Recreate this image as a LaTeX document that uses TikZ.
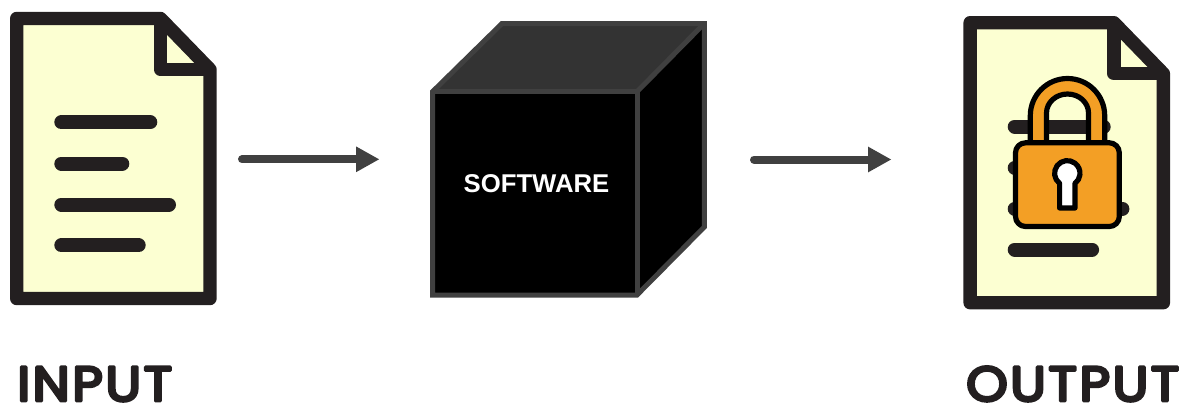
\documentclass[tikz,border=0pt]{standalone}
\usepackage{fontspec}
\setmainfont{Liberation Sans}
\newfontfamily\labelfont[FakeBold=6,FakeStretch=1.08,LetterSpace=5]{Poppins}
\usetikzlibrary{arrows.meta}
\definecolor{docink}{HTML}{231F20}
\definecolor{docpaper}{HTML}{FCFFD2}
\definecolor{cubeline}{HTML}{404040}
\definecolor{cubetop}{HTML}{333333}
\definecolor{lockorange}{HTML}{F39F25}
\tikzset{
  docshape/.style={draw=docink,fill=docpaper,line width=13.4pt,line join=round},
  docline/.style={draw=docink,line width=14pt,line cap=round},
  lockpart/.style={draw=black,line width=5.2pt,line join=round},
  cubeedge/.style={draw=cubeline,line width=5pt,line join=miter},
  flowarrow/.style={draw=cubeline,line width=8pt,line cap=round,-{Triangle[length=23.5pt,width=24pt,line cap=butt]}},
  biglabel/.style={text=docink,font=\labelfont\fontsize{49}{49}\selectfont,inner sep=0pt,anchor=base west,line join=round},
  doc/.pic={
    \path[docshape] (16.7,18.5) -- (160.5,18.5) -- (210,69.5) -- (210,298.5) -- (16.7,298.5) -- cycle;
    \path[docshape,fill=none] (160.5,18.5) -- (160.5,69.5) -- (210,69.5);
    \path[docline] (61.3,122.3) -- (150.3,122.3);
    \path[docline] (61.3,163.5) -- (122.3,163.5);
    \path[docline] (61.3,204.5) -- (169,204.5);
    \path[docline] (61.3,245.3) -- (138.7,245.3);
  }
}
\begin{document}
\begin{tikzpicture}[x=1pt,y=-1pt]
\useasboundingbox (0,0) rectangle (1184,405);
% input document
\pic at (0,0) {doc};
% cube
\fill[cubetop] (432.5,91.7) -- (502,23.5) -- (704.3,23.5) -- (637,91.7) -- cycle;
\fill[black] (637,91.7) -- (704.3,23.5) -- (704.3,227) -- (637,295) -- cycle;
\fill[black] (432.5,91.7) rectangle (637,295);
\path[cubeedge] (432.5,91.7) -- (502,23.5) -- (704.3,23.5) -- (704.3,227) -- (637,295) -- (432.5,295) -- cycle;
\path[cubeedge] (432.5,91.7) -- (637,91.7) -- (637,295);
\path[cubeedge] (637,91.7) -- (704.3,23.5);
\node[text=white,font=\bfseries\fontsize{25.7}{25.7}\selectfont,inner sep=0pt] (sw) at (536.5,184) {SOFTWARE};
% output document
\pic at (953.4,4.2) {doc};
% padlock
\path[lockpart,fill=lockorange,even odd rule]
  (1030.3,143) -- (1030.3,115.7) arc[start angle=180,end angle=360,radius=37.2] -- (1104.7,143) -- (1088.5,143) -- (1088.5,113) arc[start angle=360,end angle=180,x radius=21,y radius=19] -- (1046.5,143) -- cycle;
\path[lockpart,fill=lockorange] (1025.5,142.8) -- (1109.3,142.8) arc[start angle=-90,end angle=0,radius=10] -- (1119.3,216.5) arc[start angle=0,end angle=90,radius=10] -- (1025.5,226.5) arc[start angle=90,end angle=180,radius=10] -- (1015.5,152.8) arc[start angle=180,end angle=270,radius=10] -- cycle;
\path[lockpart,fill=white] (1059.6,183.4) arc[start angle=127.3,end angle=412.7,radius=12.7] -- (1075,208) -- (1059.6,208) -- cycle;
% labels
\node[biglabel] (inlabel) at (17,401) {INPUT};
\node[biglabel] (outlabel) at (966,401) {OUTPUT};
% connectors
\coordinate (a1) at (242,159.3);
\coordinate (a2) at (379.5,159.3);
\coordinate (b1) at (754,159.5);
\coordinate (b2) at (891.5,159.5);
\path[flowarrow] (a1) -- (a2);
\path[flowarrow] (b1) -- (b2);
\end{tikzpicture}
\end{document}
